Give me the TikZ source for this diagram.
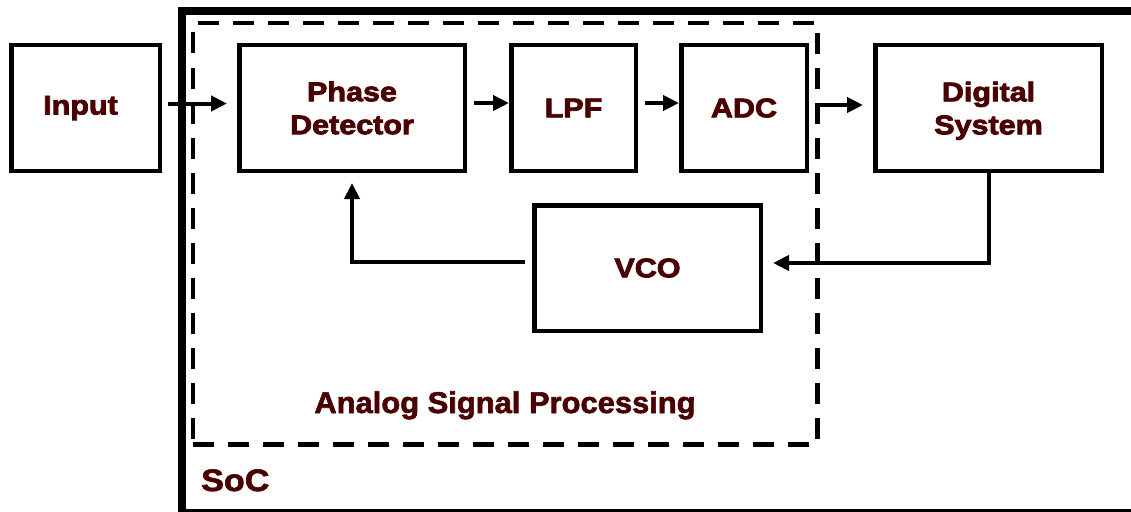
\documentclass[tikz,border=0pt]{standalone}
\usepackage{fontspec}
\newfontfamily\lblfont[FakeStretch=1.13,FakeBold=3]{Liberation Sans Bold}
\newfontfamily\capfont[FakeStretch=1.03,FakeBold=2]{Liberation Sans Bold}
\newfontfamily\socfont[FakeStretch=1.1,FakeBold=2]{Liberation Sans Bold}
\usetikzlibrary{arrows.meta}
\definecolor{txtred}{RGB}{74,0,0}
\tikzset{
  blk/.style={draw=black, line width=4.5pt, fill=white, inner sep=0pt,
    minimum height=125.5pt, align=center, text=txtred,
    font=\lblfont\fontsize{27}{33}\selectfont},
  conn/.style={line width=4pt, -{Triangle[length=16pt,width=15pt]}},
  dashbox/.style={draw=black, line width=4.5pt, dash pattern=on 21pt off 14pt, inner sep=0pt},
  socbox/.style={draw=black, line width=8pt},
  lbl/.style={text=txtred, inner sep=0pt, font=\capfont\fontsize{30}{36}\selectfont},
}
\begin{document}
\begin{tikzpicture}[x=1pt,y=-1pt]
\useasboundingbox (0,0) rectangle (1131,511);
\clip (0,0) rectangle (1131,511);
\fill[white] (0,0) rectangle (1131,511);
% SoC frame (right side runs beyond the picture)
\draw[socbox] (1160,513) -- (182,513) -- (182,11.5) -- (1160,11.5);
% Analog signal processing dashed frame
\node[dashbox, minimum width=624.5pt, minimum height=421.5pt] (asp) at (505.25,233.75) {};
% Blocks
\node[blk, minimum width=148.5pt] (input) at (85.5,108) {Input\kern10pt};
\node[blk, minimum width=225.5pt] (pd) at (352,108) {Phase\\Detector};
\node[blk, minimum width=124.5pt] (lpf) at (573.5,108) {LPF};
\node[blk, minimum width=125.5pt] (adc) at (744,108) {ADC};
\node[blk, minimum width=226.5pt] (dig) at (988.5,108) {Digital\\\raisebox{0pt}[\height][0pt]{System}};
\node[blk, minimum width=226.5pt] (vco) at (647.5,268) {VCO};
% Labels
\node[lbl, anchor=base] (asplbl) at (505,413) {Analog Signal Processing};
\node[lbl, anchor=base west, font=\socfont\fontsize{31}{36}\selectfont] (soclbl) at (201,491) {SoC};
% Connectors
\draw[conn, shorten <=6pt, shorten >=10pt] ([yshift=4.5pt]input.east) -- ([yshift=4.5pt]pd.west);
\draw[conn, shorten <=7pt] ([yshift=5pt]pd.east) -- ([yshift=5pt]lpf.west);
\draw[conn, shorten <=7pt] ([yshift=5pt]lpf.east) -- ([yshift=5pt]adc.west);
\draw[conn, shorten <=9pt, shorten >=10pt] ([yshift=3pt]adc.east) -- ([yshift=3pt]dig.west);
\coordinate (dturn) at ([yshift=5pt]vco.east -| dig.south);
\draw[conn, shorten >=10pt] (dig.south) -- (dturn) -- ([yshift=5pt]vco.east);
\coordinate (vturn) at ([yshift=6pt]vco.west -| pd.south);
\draw[conn, shorten <=7pt, shorten >=10pt] ([yshift=6pt]vco.west) -- (vturn) -- (pd.south);
\end{tikzpicture}
\end{document}
